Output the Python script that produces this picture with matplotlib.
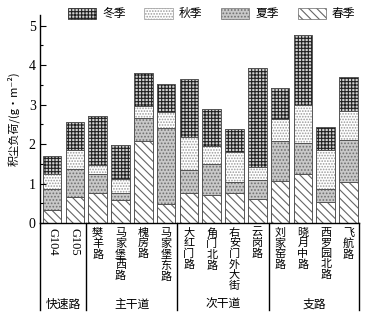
import matplotlib
matplotlib.use("Agg")
import matplotlib.pyplot as plt
from matplotlib.patches import Patch
from matplotlib.transforms import blended_transform_factory
import numpy as np

categories = ["G104", "G105", "樊羊路", "马家堡西路", "槐房路", "马家堡东路",
              "大红门路", "角门北路", "右安门外大街", "云岗路",
              "刘家窑路", "晓月中路", "西罗园北路", "飞航路"]
groups = ["快速路", "主干道", "次干道", "支路"]
group_sizes = [2, 4, 4, 4]
seasons = ["春季", "夏季", "秋季", "冬季"]
spring = [0.34, 0.66, 0.76, 0.58, 2.08, 0.49, 0.75, 0.71, 0.77, 0.60, 1.06, 1.25, 0.53, 1.04]
summer = [0.53, 0.70, 0.48, 0.18, 0.59, 1.91, 0.59, 0.78, 0.26, 0.48, 1.02, 0.77, 0.34, 1.07]
autumn = [0.37, 0.50, 0.24, 0.36, 0.29, 0.42, 0.83, 0.46, 0.76, 0.34, 0.55, 0.98, 0.99, 0.72]
winter = [0.45, 0.70, 1.24, 0.85, 0.85, 0.70, 1.47, 0.93, 0.58, 2.50, 0.80, 1.76, 0.58, 0.86]

plt.rcParams['hatch.linewidth'] = 0.8
CJK = ['Noto Sans CJK SC', 'DejaVu Sans']
SERIF = ['Liberation Serif', 'DejaVu Serif']

fig = plt.figure(figsize=(3.68, 3.19), dpi=100)
ax = fig.add_axes([0.1087, 0.301, 0.8668, 0.652])

styles = [
    dict(fc='white', hatch='\\\\\\\\', hc='#666666'),   # spring
    dict(fc='#c8c8c8', hatch='.....', hc='#707070'),    # summer
    dict(fc='white', hatch='......', hc='#9a9a9a'),     # autumn
    dict(fc='#d0d0d0', hatch='+++++', hc='#202020'),    # winter
]
data = [spring, summer, autumn, winter]
x = np.arange(len(categories))
w = 0.81
bottom = np.zeros(len(categories))
for vals, st in zip(data, styles):
    vals = np.array(vals)
    ax.bar(x, vals, w, bottom=bottom, color=st['fc'], hatch=st['hatch'],
           edgecolor=st['hc'], linewidth=0)
    ax.bar(x, vals, w, bottom=bottom, fill=False, edgecolor='#555555', linewidth=0.7)
    bottom += vals

xl = (-0.53, len(categories) - 0.54)
ax.set_xlim(*xl)
ax.set_ylim(0, 5.27)
ax.spines['top'].set_visible(False)
ax.spines['right'].set_visible(False)
ax.spines['left'].set_linewidth(1.0)
ax.spines['bottom'].set_linewidth(1.0)
ax.set_yticks([0, 1, 2, 3, 4, 5])
ax.set_yticks(np.arange(0.5, 5.3, 1.0), minor=True)
ax.tick_params(axis='y', which='major', direction='in', length=4, width=0.8, pad=3)
ax.tick_params(axis='y', which='minor', direction='in', length=2, width=0.8)
for lab in ax.get_yticklabels():
    lab.set_family(SERIF)
    lab.set_fontsize(10)
ax.set_xticks([])

ax.set_ylabel("积尘负荷/(g·m⁻²)", family=CJK, fontsize=8)
ax.yaxis.set_label_coords(-0.065, 0.5)

trans = blended_transform_factory(ax.transData, ax.transAxes)
# category labels
for xi, name in zip(x, categories):
    if name.isascii():
        ax.text(xi, -0.025, name, transform=trans, rotation=-90, ha='center', va='top',
                family=SERIF, fontsize=9)
    else:
        ax.text(xi, -0.022, "\n".join(name), transform=trans, ha='center', va='top',
                family=CJK, fontsize=8, linespacing=1.06)

# group box lines and labels
ybot = -0.418
edges = [xl[0]]
pos = 0
for s in group_sizes:
    pos += s
    edges.append(pos - 0.5)
edges[-1] = xl[1]
for e in edges:
    ax.plot([e, e], [0, ybot], transform=trans, color='black', lw=1.0, clip_on=False)
for i, g in enumerate(groups):
    cx = (edges[i] + edges[i + 1]) / 2
    ax.text(cx, -0.39, g, transform=trans, ha='center', va='center',
            family=CJK, fontsize=8.5)

handles = [Patch(facecolor=styles[i]['fc'], hatch=styles[i]['hatch'],
                 edgecolor=styles[i]['hc'], linewidth=0.5) for i in [3, 2, 1, 0]]
labels = [seasons[i] for i in [3, 2, 1, 0]]
fig.legend(handles, labels, loc='center', bbox_to_anchor=(0.575, 0.957), ncol=4,
           frameon=False, prop={'family': CJK, 'size': 8.5},
           handlelength=2.4, handleheight=1.1, handletextpad=0.5, columnspacing=1.6)

fig.savefig("out.png", dpi=100)
